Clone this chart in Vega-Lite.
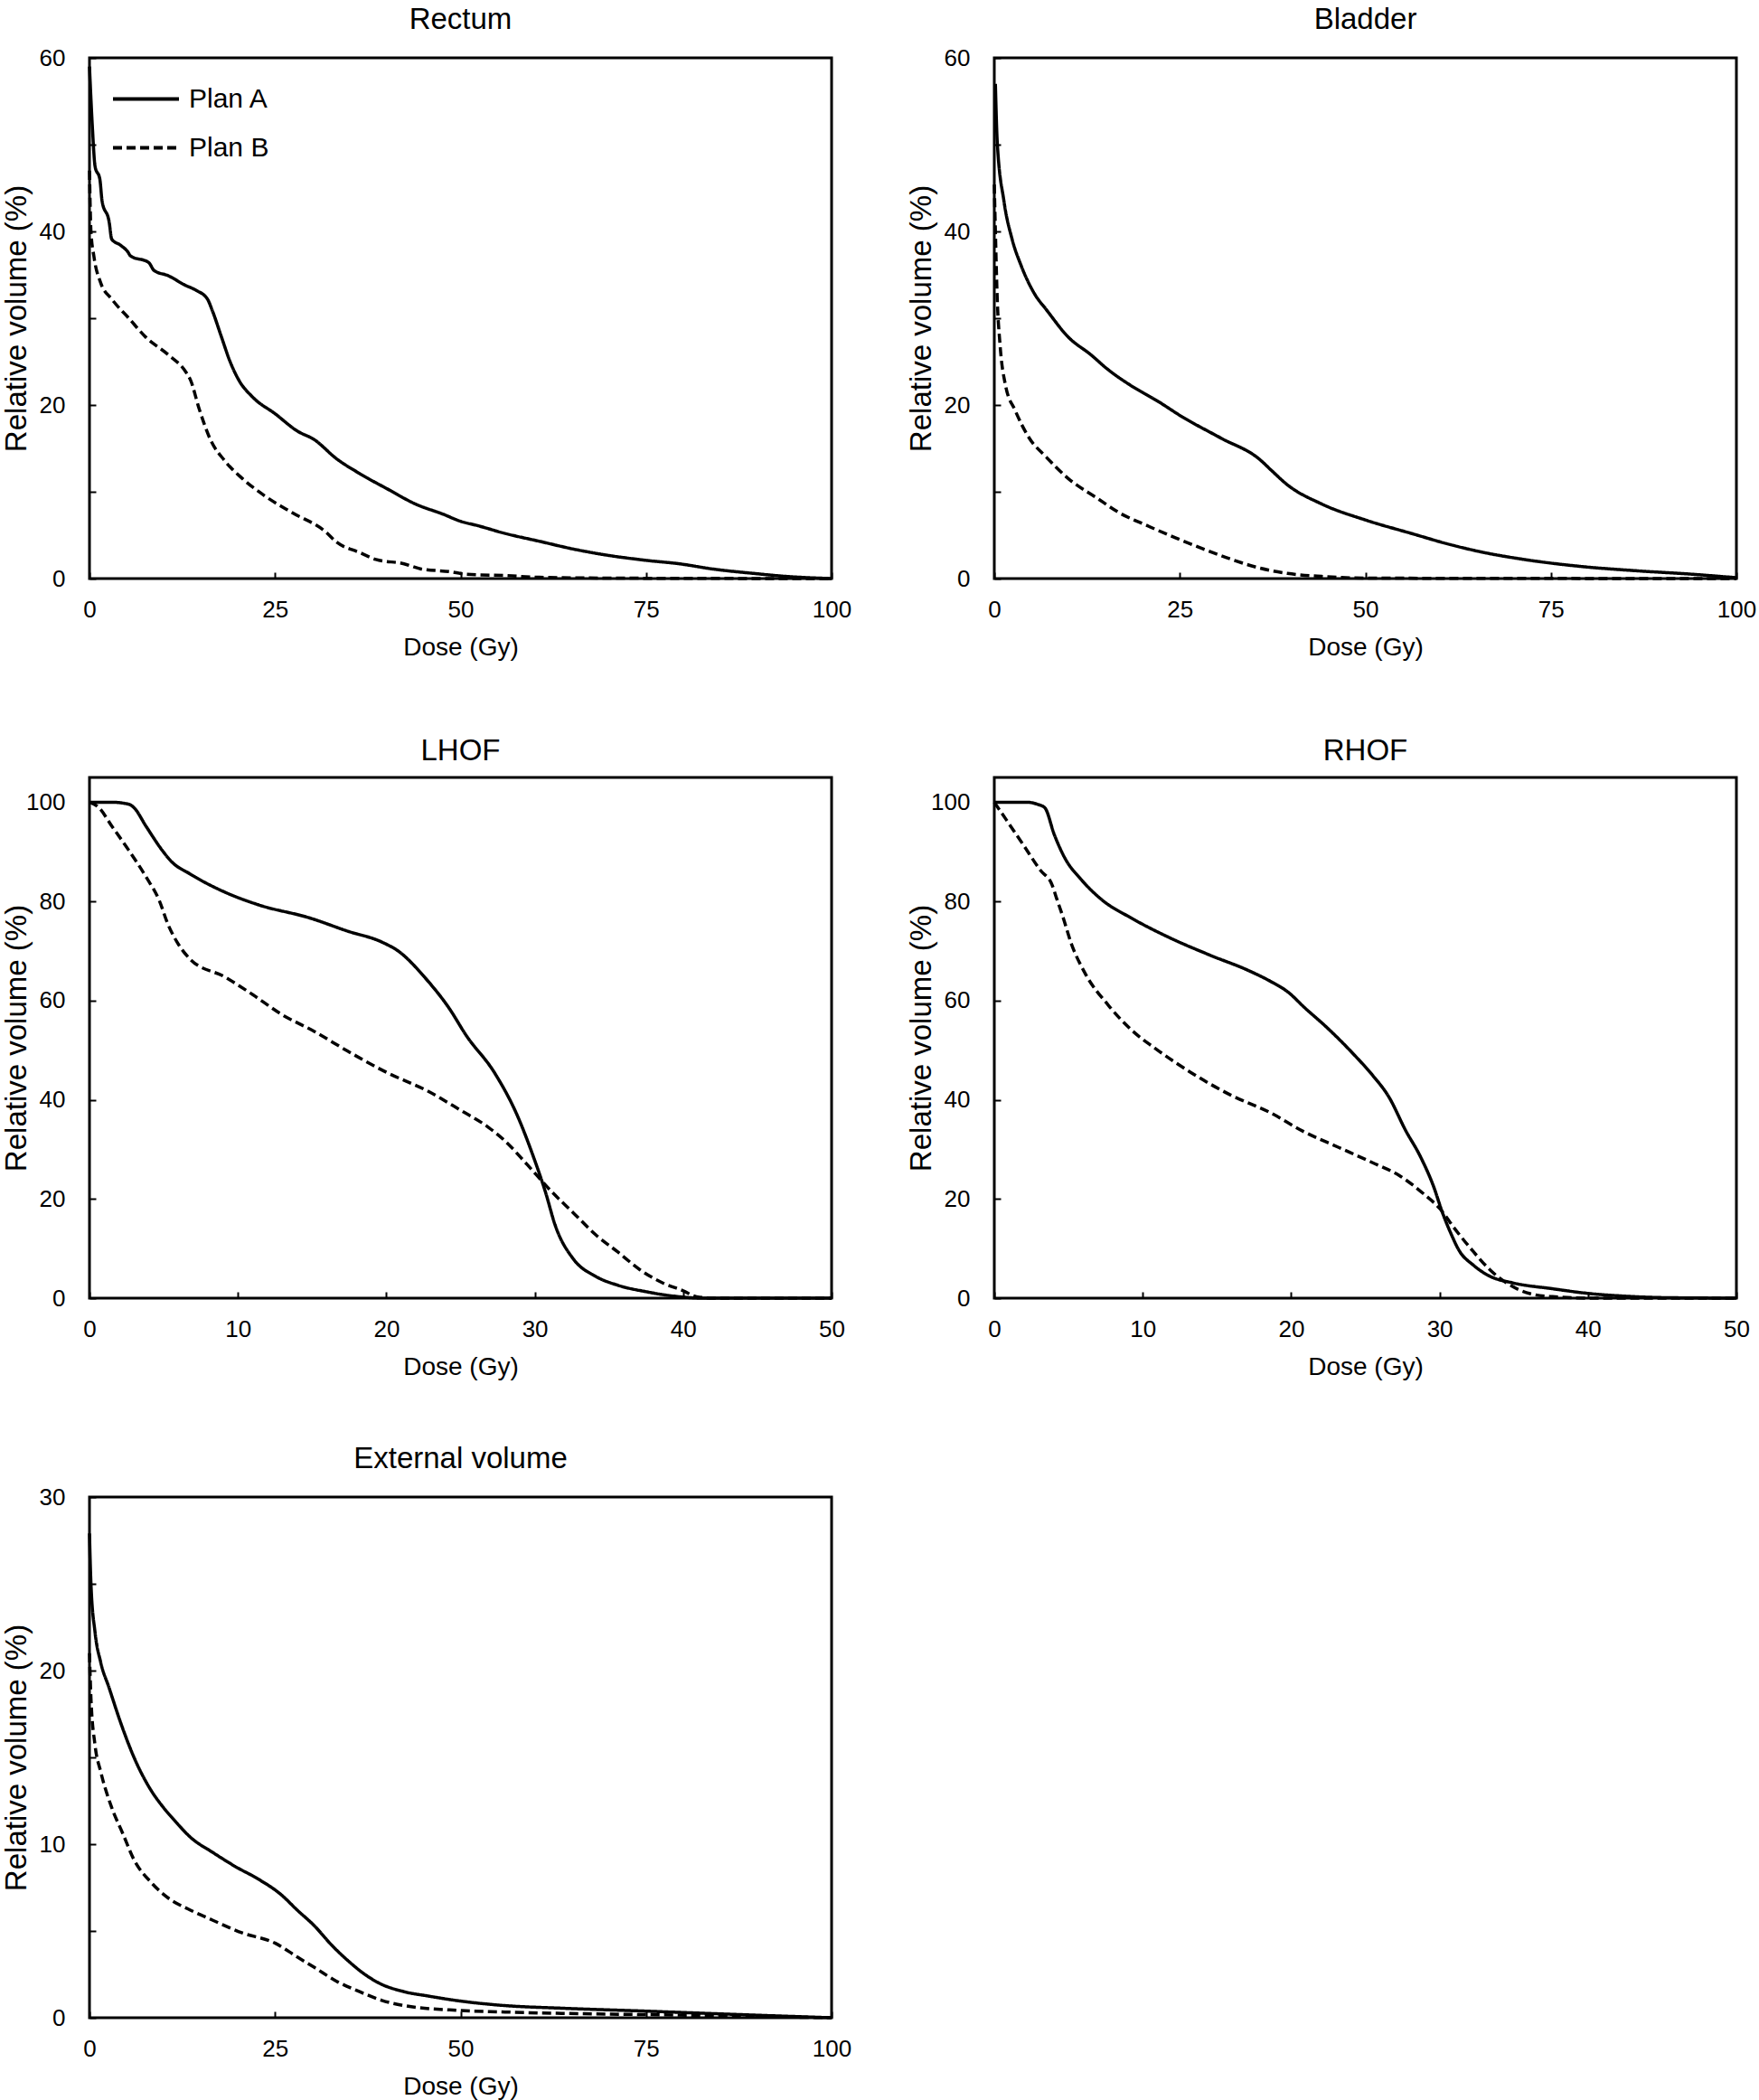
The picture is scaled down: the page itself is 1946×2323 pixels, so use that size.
{
"$schema": "https://vega.github.io/schema/vega-lite/v6.json",
"background": "white",
"padding": {"top": 4, "left": 0, "right": 0, "bottom": 0},
"bounds": "flush",
"columns": 2,
"spacing": {"row": 220, "column": 180},
"datasets": {
"rectum": [
{"plan":"Plan A","dose":0,"vol":59},{"plan":"Plan A","dose":0.4,"vol":51.9},{"plan":"Plan A","dose":0.75,"vol":47.5},{"plan":"Plan A","dose":1.4,"vol":46},{"plan":"Plan A","dose":1.7,"vol":43.5},{"plan":"Plan A","dose":2.65,"vol":41.1},{"plan":"Plan A","dose":3,"vol":39.1},{"plan":"Plan A","dose":4.2,"vol":38.4},{"plan":"Plan A","dose":5.2,"vol":37.6},{"plan":"Plan A","dose":5.5,"vol":37.2},{"plan":"Plan A","dose":8,"vol":36.4},{"plan":"Plan A","dose":8.7,"vol":35.5},{"plan":"Plan A","dose":10.6,"vol":34.9},{"plan":"Plan A","dose":12.9,"vol":33.8},{"plan":"Plan A","dose":14.4,"vol":33.2},{"plan":"Plan A","dose":15.9,"vol":32.2},{"plan":"Plan A","dose":16.5,"vol":31},{"plan":"Plan A","dose":17.8,"vol":27.8},{"plan":"Plan A","dose":18.9,"vol":25.1},{"plan":"Plan A","dose":20.1,"vol":22.9},{"plan":"Plan A","dose":22,"vol":20.9},{"plan":"Plan A","dose":25,"vol":19},{"plan":"Plan A","dose":28,"vol":17},{"plan":"Plan A","dose":30.3,"vol":16},{"plan":"Plan A","dose":33.3,"vol":13.8},{"plan":"Plan A","dose":36.4,"vol":12.1},{"plan":"Plan A","dose":40.2,"vol":10.3},{"plan":"Plan A","dose":43.9,"vol":8.6},{"plan":"Plan A","dose":47.7,"vol":7.4},{"plan":"Plan A","dose":50,"vol":6.6},{"plan":"Plan A","dose":52.3,"vol":6.1},{"plan":"Plan A","dose":56,"vol":5.2},{"plan":"Plan A","dose":60.6,"vol":4.3},{"plan":"Plan A","dose":65.2,"vol":3.4},{"plan":"Plan A","dose":69.7,"vol":2.7},{"plan":"Plan A","dose":75,"vol":2.1},{"plan":"Plan A","dose":79.5,"vol":1.7},{"plan":"Plan A","dose":84,"vol":1.1},{"plan":"Plan A","dose":89.4,"vol":0.6},{"plan":"Plan A","dose":93.9,"vol":0.25},{"plan":"Plan A","dose":100,"vol":0},
{"plan":"Plan B","dose":0,"vol":47},{"plan":"Plan B","dose":0.2,"vol":40},{"plan":"Plan B","dose":0.6,"vol":37.1},{"plan":"Plan B","dose":1.5,"vol":34.1},{"plan":"Plan B","dose":3,"vol":32.2},{"plan":"Plan B","dose":5.3,"vol":30},{"plan":"Plan B","dose":7.6,"vol":27.8},{"plan":"Plan B","dose":10.6,"vol":25.8},{"plan":"Plan B","dose":12.9,"vol":23.9},{"plan":"Plan B","dose":13.6,"vol":22.9},{"plan":"Plan B","dose":14.8,"vol":19.5},{"plan":"Plan B","dose":16.3,"vol":16},{"plan":"Plan B","dose":18.2,"vol":13.6},{"plan":"Plan B","dose":20.5,"vol":11.6},{"plan":"Plan B","dose":23.5,"vol":9.6},{"plan":"Plan B","dose":27.3,"vol":7.6},{"plan":"Plan B","dose":31.8,"vol":5.4},{"plan":"Plan B","dose":33.3,"vol":4.2},{"plan":"Plan B","dose":36.4,"vol":3},{"plan":"Plan B","dose":38.6,"vol":2.2},{"plan":"Plan B","dose":42.4,"vol":1.7},{"plan":"Plan B","dose":44.7,"vol":1.1},{"plan":"Plan B","dose":48.5,"vol":0.8},{"plan":"Plan B","dose":50.8,"vol":0.5},{"plan":"Plan B","dose":56,"vol":0.35},{"plan":"Plan B","dose":60.6,"vol":0.15},{"plan":"Plan B","dose":71,"vol":0.05},{"plan":"Plan B","dose":100,"vol":0}
],
"bladder": [
{"plan":"Plan A","dose":0.15,"vol":57},{"plan":"Plan A","dose":0.4,"vol":50.3},{"plan":"Plan A","dose":1.3,"vol":43.5},{"plan":"Plan A","dose":2.4,"vol":39.1},{"plan":"Plan A","dose":3.6,"vol":36.1},{"plan":"Plan A","dose":5.5,"vol":32.7},{"plan":"Plan A","dose":7,"vol":31},{"plan":"Plan A","dose":10,"vol":27.8},{"plan":"Plan A","dose":13,"vol":25.8},{"plan":"Plan A","dose":15.3,"vol":24.1},{"plan":"Plan A","dose":18.3,"vol":22.3},{"plan":"Plan A","dose":22.1,"vol":20.4},{"plan":"Plan A","dose":25.2,"vol":18.7},{"plan":"Plan A","dose":30.5,"vol":16.2},{"plan":"Plan A","dose":35.8,"vol":13.7},{"plan":"Plan A","dose":37.3,"vol":12.5},{"plan":"Plan A","dose":39.5,"vol":10.8},{"plan":"Plan A","dose":44.1,"vol":8.6},{"plan":"Plan A","dose":50.2,"vol":6.7},{"plan":"Plan A","dose":56.2,"vol":5.2},{"plan":"Plan A","dose":61.5,"vol":3.9},{"plan":"Plan A","dose":66,"vol":3.0},{"plan":"Plan A","dose":71.4,"vol":2.2},{"plan":"Plan A","dose":79,"vol":1.4},{"plan":"Plan A","dose":86.5,"vol":0.9},{"plan":"Plan A","dose":94,"vol":0.5},{"plan":"Plan A","dose":100,"vol":0.1},
{"plan":"Plan B","dose":0,"vol":45.4},{"plan":"Plan B","dose":0.15,"vol":40},{"plan":"Plan B","dose":0.4,"vol":32.2},{"plan":"Plan B","dose":0.75,"vol":27.2},{"plan":"Plan B","dose":1.5,"vol":22.3},{"plan":"Plan B","dose":2.8,"vol":19.4},{"plan":"Plan B","dose":4.7,"vol":16.2},{"plan":"Plan B","dose":7,"vol":14},{"plan":"Plan B","dose":10,"vol":11.5},{"plan":"Plan B","dose":13.8,"vol":9.3},{"plan":"Plan B","dose":16.8,"vol":7.6},{"plan":"Plan B","dose":20.6,"vol":6.1},{"plan":"Plan B","dose":24.4,"vol":4.7},{"plan":"Plan B","dose":28.2,"vol":3.4},{"plan":"Plan B","dose":32,"vol":2.2},{"plan":"Plan B","dose":35.8,"vol":1.2},{"plan":"Plan B","dose":39.5,"vol":0.6},{"plan":"Plan B","dose":44.1,"vol":0.25},{"plan":"Plan B","dose":50.2,"vol":0.05},{"plan":"Plan B","dose":100,"vol":0}
],
"lhof": [
{"plan":"Plan A","dose":0,"vol":100},{"plan":"Plan A","dose":1.5,"vol":100},{"plan":"Plan A","dose":2.65,"vol":99.6},{"plan":"Plan A","dose":3,"vol":98.9},{"plan":"Plan A","dose":3.8,"vol":95.2},{"plan":"Plan A","dose":4.9,"vol":90.3},{"plan":"Plan A","dose":5.5,"vol":88.1},{"plan":"Plan A","dose":6.8,"vol":85.5},{"plan":"Plan A","dose":9.1,"vol":81.9},{"plan":"Plan A","dose":11.4,"vol":79.3},{"plan":"Plan A","dose":14.8,"vol":76.7},{"plan":"Plan A","dose":17.4,"vol":74},{"plan":"Plan A","dose":19.7,"vol":71.8},{"plan":"Plan A","dose":20.8,"vol":70},{"plan":"Plan A","dose":22.7,"vol":64.3},{"plan":"Plan A","dose":24.2,"vol":58.6},{"plan":"Plan A","dose":25.4,"vol":52.9},{"plan":"Plan A","dose":27.3,"vol":45.4},{"plan":"Plan A","dose":28.8,"vol":37},{"plan":"Plan A","dose":29.9,"vol":28.6},{"plan":"Plan A","dose":30.7,"vol":21.6},{"plan":"Plan A","dose":31.4,"vol":14.5},{"plan":"Plan A","dose":32.6,"vol":7.9},{"plan":"Plan A","dose":34.1,"vol":4.4},{"plan":"Plan A","dose":35.6,"vol":2.6},{"plan":"Plan A","dose":37.5,"vol":1.3},{"plan":"Plan A","dose":39.4,"vol":0.4},{"plan":"Plan A","dose":41.3,"vol":0},{"plan":"Plan A","dose":50,"vol":0},
{"plan":"Plan B","dose":0,"vol":100},{"plan":"Plan B","dose":0.6,"vol":99},{"plan":"Plan B","dose":1.5,"vol":95.2},{"plan":"Plan B","dose":2.65,"vol":90.3},{"plan":"Plan B","dose":3.8,"vol":85},{"plan":"Plan B","dose":4.7,"vol":80.2},{"plan":"Plan B","dose":5.3,"vol":75.3},{"plan":"Plan B","dose":5.9,"vol":71.8},{"plan":"Plan B","dose":6.8,"vol":68.3},{"plan":"Plan B","dose":9.1,"vol":64.8},{"plan":"Plan B","dose":11,"vol":61.2},{"plan":"Plan B","dose":12.9,"vol":57.3},{"plan":"Plan B","dose":15.2,"vol":53.7},{"plan":"Plan B","dose":17.4,"vol":49.8},{"plan":"Plan B","dose":20.1,"vol":45.4},{"plan":"Plan B","dose":22.7,"vol":41.9},{"plan":"Plan B","dose":25,"vol":37.9},{"plan":"Plan B","dose":26.9,"vol":34.4},{"plan":"Plan B","dose":28,"vol":31.7},{"plan":"Plan B","dose":29.5,"vol":26.9},{"plan":"Plan B","dose":31.1,"vol":21.6},{"plan":"Plan B","dose":32.6,"vol":17.2},{"plan":"Plan B","dose":34.1,"vol":12.8},{"plan":"Plan B","dose":35.6,"vol":9.3},{"plan":"Plan B","dose":37.1,"vol":5.7},{"plan":"Plan B","dose":38.6,"vol":3.1},{"plan":"Plan B","dose":40,"vol":1.5},{"plan":"Plan B","dose":40.9,"vol":0.3},{"plan":"Plan B","dose":42,"vol":0},{"plan":"Plan B","dose":50,"vol":0}
],
"rhof": [
{"plan":"Plan A","dose":0,"vol":100},{"plan":"Plan A","dose":2.2,"vol":100},{"plan":"Plan A","dose":2.9,"vol":99.6},{"plan":"Plan A","dose":3.4,"vol":98.9},{"plan":"Plan A","dose":4.05,"vol":93.4},{"plan":"Plan A","dose":4.8,"vol":88.5},{"plan":"Plan A","dose":5.8,"vol":84.6},{"plan":"Plan A","dose":7.3,"vol":80.2},{"plan":"Plan A","dose":9.2,"vol":76.7},{"plan":"Plan A","dose":11.8,"vol":72.7},{"plan":"Plan A","dose":14.5,"vol":69.2},{"plan":"Plan A","dose":17.1,"vol":66.1},{"plan":"Plan A","dose":18.6,"vol":63.9},{"plan":"Plan A","dose":19.8,"vol":61.7},{"plan":"Plan A","dose":20.9,"vol":58.6},{"plan":"Plan A","dose":22.4,"vol":54.6},{"plan":"Plan A","dose":24.3,"vol":48.9},{"plan":"Plan A","dose":25.5,"vol":44.9},{"plan":"Plan A","dose":26.6,"vol":40.5},{"plan":"Plan A","dose":27.7,"vol":33.9},{"plan":"Plan A","dose":28.7,"vol":28.6},{"plan":"Plan A","dose":29.6,"vol":22.5},{"plan":"Plan A","dose":30.2,"vol":17.2},{"plan":"Plan A","dose":30.8,"vol":12.8},{"plan":"Plan A","dose":31.3,"vol":9.7},{"plan":"Plan A","dose":32.3,"vol":6.6},{"plan":"Plan A","dose":33.4,"vol":4.4},{"plan":"Plan A","dose":34.9,"vol":3.1},{"plan":"Plan A","dose":37.6,"vol":1.9},{"plan":"Plan A","dose":40.2,"vol":0.9},{"plan":"Plan A","dose":42.5,"vol":0.4},{"plan":"Plan A","dose":45.2,"vol":0.1},{"plan":"Plan A","dose":50,"vol":0},
{"plan":"Plan B","dose":0,"vol":100},{"plan":"Plan B","dose":0.8,"vol":96.5},{"plan":"Plan B","dose":2,"vol":91.2},{"plan":"Plan B","dose":3.1,"vol":86.3},{"plan":"Plan B","dose":3.9,"vol":83.3},{"plan":"Plan B","dose":4.2,"vol":80.6},{"plan":"Plan B","dose":4.6,"vol":77.1},{"plan":"Plan B","dose":5.2,"vol":71.4},{"plan":"Plan B","dose":6.1,"vol":65.6},{"plan":"Plan B","dose":7.7,"vol":59},{"plan":"Plan B","dose":9.2,"vol":54.2},{"plan":"Plan B","dose":11.1,"vol":49.8},{"plan":"Plan B","dose":13.3,"vol":45.4},{"plan":"Plan B","dose":15.9,"vol":41},{"plan":"Plan B","dose":18.6,"vol":37.4},{"plan":"Plan B","dose":20.9,"vol":33.5},{"plan":"Plan B","dose":23.2,"vol":30.4},{"plan":"Plan B","dose":25.5,"vol":27.3},{"plan":"Plan B","dose":27.3,"vol":24.7},{"plan":"Plan B","dose":28.9,"vol":21.1},{"plan":"Plan B","dose":30,"vol":18.1},{"plan":"Plan B","dose":31.1,"vol":13.7},{"plan":"Plan B","dose":32.3,"vol":9.3},{"plan":"Plan B","dose":33.4,"vol":5.7},{"plan":"Plan B","dose":34.5,"vol":3.1},{"plan":"Plan B","dose":36.1,"vol":0.9},{"plan":"Plan B","dose":37.6,"vol":0.3},{"plan":"Plan B","dose":40.2,"vol":0},{"plan":"Plan B","dose":50,"vol":0}
],
"external": [
{"plan":"Plan A","dose":0,"vol":27.9},{"plan":"Plan A","dose":0.2,"vol":25},{"plan":"Plan A","dose":0.75,"vol":22.2},{"plan":"Plan A","dose":1.5,"vol":20.5},{"plan":"Plan A","dose":2.65,"vol":19.0},{"plan":"Plan A","dose":4.2,"vol":17.0},{"plan":"Plan A","dose":6,"vol":15.0},{"plan":"Plan A","dose":8.3,"vol":13.1},{"plan":"Plan A","dose":9.8,"vol":12.2},{"plan":"Plan A","dose":11.4,"vol":11.4},{"plan":"Plan A","dose":13.6,"vol":10.4},{"plan":"Plan A","dose":16.7,"vol":9.5},{"plan":"Plan A","dose":19.7,"vol":8.7},{"plan":"Plan A","dose":22.7,"vol":8},{"plan":"Plan A","dose":25.8,"vol":7.1},{"plan":"Plan A","dose":28,"vol":6.2},{"plan":"Plan A","dose":30.3,"vol":5.3},{"plan":"Plan A","dose":32.6,"vol":4.2},{"plan":"Plan A","dose":34.8,"vol":3.3},{"plan":"Plan A","dose":37.1,"vol":2.5},{"plan":"Plan A","dose":39,"vol":2},{"plan":"Plan A","dose":42.4,"vol":1.5},{"plan":"Plan A","dose":45.5,"vol":1.26},{"plan":"Plan A","dose":50,"vol":0.96},{"plan":"Plan A","dose":56,"vol":0.7},{"plan":"Plan A","dose":63.6,"vol":0.55},{"plan":"Plan A","dose":75,"vol":0.38},{"plan":"Plan A","dose":86.4,"vol":0.2},{"plan":"Plan A","dose":100,"vol":0},
{"plan":"Plan B","dose":0,"vol":21},{"plan":"Plan B","dose":0.2,"vol":18.4},{"plan":"Plan B","dose":0.75,"vol":15.7},{"plan":"Plan B","dose":1.5,"vol":14.2},{"plan":"Plan B","dose":3,"vol":12.1},{"plan":"Plan B","dose":4.5,"vol":10.6},{"plan":"Plan B","dose":6,"vol":9.1},{"plan":"Plan B","dose":8.3,"vol":7.8},{"plan":"Plan B","dose":10.6,"vol":6.9},{"plan":"Plan B","dose":13.6,"vol":6.2},{"plan":"Plan B","dose":16.7,"vol":5.6},{"plan":"Plan B","dose":20.5,"vol":4.9},{"plan":"Plan B","dose":25,"vol":4.3},{"plan":"Plan B","dose":28,"vol":3.5},{"plan":"Plan B","dose":30.3,"vol":2.9},{"plan":"Plan B","dose":33.3,"vol":2.1},{"plan":"Plan B","dose":36.4,"vol":1.5},{"plan":"Plan B","dose":39.4,"vol":1},{"plan":"Plan B","dose":42.4,"vol":0.7},{"plan":"Plan B","dose":48.5,"vol":0.45},{"plan":"Plan B","dose":56,"vol":0.33},{"plan":"Plan B","dose":63.6,"vol":0.25},{"plan":"Plan B","dose":75,"vol":0.18},{"plan":"Plan B","dose":86.4,"vol":0.1},{"plan":"Plan B","dose":100,"vol":0}
]
},
"concat": [
{
"title": "Rectum",
"width": 821, "height": 576,
"data": {"name": "rectum"},
"mark": {"type": "line", "color": "black", "strokeWidth": 3.5, "interpolate": "monotone"},
"encoding": {
"x": {"field": "dose", "type": "quantitative", "scale": {"domain": [0, 100], "nice": false}, "axis": {"title": "Dose (Gy)", "values": [0, 25, 50, 75, 100]}},
"y": {"field": "vol", "type": "quantitative", "scale": {"domain": [0, 60], "nice": false}, "axis": {"title": "Relative volume (%)", "values": [0, 10, 20, 30, 40, 50, 60], "labelExpr": "datum.value % 20 === 0 ? datum.label : ''"}},
"strokeDash": {"field": "plan", "type": "nominal", "scale": {"domain": ["Plan A", "Plan B"], "range": [[1, 0], [10, 5]]},
"legend": {"orient": "none", "legendX": 24, "legendY": 7, "title": null, "symbolType": "stroke", "symbolSize": 5329, "symbolStrokeWidth": 4, "symbolStrokeColor": "black", "labelFontSize": 30, "labelColor": "black", "labelOffset": 9, "rowPadding": -32, "padding": 0}}
}
},
{
"title": "Bladder",
"width": 821, "height": 576,
"data": {"name": "bladder"},
"mark": {"type": "line", "color": "black", "strokeWidth": 3.5, "interpolate": "monotone"},
"encoding": {
"x": {"field": "dose", "type": "quantitative", "scale": {"domain": [0, 100], "nice": false}, "axis": {"title": "Dose (Gy)", "values": [0, 25, 50, 75, 100]}},
"y": {"field": "vol", "type": "quantitative", "scale": {"domain": [0, 60], "nice": false}, "axis": {"title": "Relative volume (%)", "values": [0, 10, 20, 30, 40, 50, 60], "labelExpr": "datum.value % 20 === 0 ? datum.label : ''"}},
"strokeDash": {"field": "plan", "type": "nominal", "scale": {"domain": ["Plan A", "Plan B"], "range": [[1, 0], [10, 5]]}, "legend": null}
}
},
{
"title": "LHOF",
"width": 821, "height": 576,
"data": {"name": "lhof"},
"mark": {"type": "line", "color": "black", "strokeWidth": 3.5, "interpolate": "monotone"},
"encoding": {
"x": {"field": "dose", "type": "quantitative", "scale": {"domain": [0, 50], "nice": false}, "axis": {"title": "Dose (Gy)", "values": [0, 10, 20, 30, 40, 50]}},
"y": {"field": "vol", "type": "quantitative", "scale": {"domain": [0, 105], "nice": false}, "axis": {"title": "Relative volume (%)", "values": [0, 20, 40, 60, 80, 100]}},
"strokeDash": {"field": "plan", "type": "nominal", "scale": {"domain": ["Plan A", "Plan B"], "range": [[1, 0], [10, 5]]}, "legend": null}
}
},
{
"title": "RHOF",
"width": 821, "height": 576,
"data": {"name": "rhof"},
"mark": {"type": "line", "color": "black", "strokeWidth": 3.5, "interpolate": "monotone"},
"encoding": {
"x": {"field": "dose", "type": "quantitative", "scale": {"domain": [0, 50], "nice": false}, "axis": {"title": "Dose (Gy)", "values": [0, 10, 20, 30, 40, 50]}},
"y": {"field": "vol", "type": "quantitative", "scale": {"domain": [0, 105], "nice": false}, "axis": {"title": "Relative volume (%)", "values": [0, 20, 40, 60, 80, 100]}},
"strokeDash": {"field": "plan", "type": "nominal", "scale": {"domain": ["Plan A", "Plan B"], "range": [[1, 0], [10, 5]]}, "legend": null}
}
},
{
"title": "External volume",
"width": 821, "height": 576,
"data": {"name": "external"},
"mark": {"type": "line", "color": "black", "strokeWidth": 3.5, "interpolate": "monotone"},
"encoding": {
"x": {"field": "dose", "type": "quantitative", "scale": {"domain": [0, 100], "nice": false}, "axis": {"title": "Dose (Gy)", "values": [0, 25, 50, 75, 100]}},
"y": {"field": "vol", "type": "quantitative", "scale": {"domain": [0, 30], "nice": false}, "axis": {"title": "Relative volume (%)", "values": [0, 5, 10, 15, 20, 25, 30], "labelExpr": "datum.value % 10 === 0 ? datum.label : ''"}},
"strokeDash": {"field": "plan", "type": "nominal", "scale": {"domain": ["Plan A", "Plan B"], "range": [[1, 0], [10, 5]]}, "legend": null}
}
}
],
"resolve": {"scale": {"strokeDash": "independent", "x": "independent", "y": "independent"}, "legend": {"strokeDash": "independent"}},
"config": {
"font": "Liberation Sans",
"view": {"stroke": "black", "strokeWidth": 3},
"axis": {"grid": false, "domain": false, "ticks": true, "tickSize": -7, "tickWidth": 2, "tickColor": "black", "labelFont": "Liberation Sans", "labelFontSize": 26, "labelColor": "black", "labelFlush": false, "labelOverlap": false, "titleFont": "Liberation Sans", "titleFontWeight": "normal", "titleColor": "black"},
"axisX": {"labelPadding": 28, "titleFontSize": 28, "titlePadding": 15},
"axisY": {"labelPadding": 34, "titleFontSize": 33, "titleX": -71, "titleBaseline": "alphabetic"},
"title": {"fontSize": 33, "fontWeight": "normal", "color": "black", "font": "Liberation Sans", "frame": "group", "offset": 12},
"legend": {"labelFont": "Liberation Sans"}
}
}
